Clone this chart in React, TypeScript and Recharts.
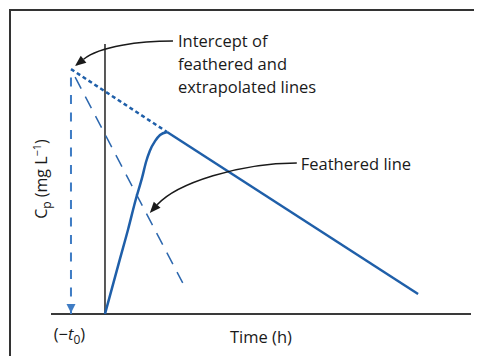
import { ComposedChart, Line, XAxis, YAxis, ReferenceLine, ReferenceDot } from 'recharts';

const FONT = '"Open Sans", "Noto Sans", sans-serif';
const INK = '#1a1a1a';
const BLUE = '#1f5fa9';

// key points of the plasma concentration curve (time in h, Cp in mg/L)
const intercept = { x: -0.63, y: 9.07 };
const featheredNote = { x: 0.83, y: 3.74 };

// absorption phase rising to the peak
const featheredTime = [0, 0.28, 0.43, 0.57, 0.69, 0.76, 0.83, 0.93, 1.02, 1.15];
const featheredConc = [0, 2.06, 3.15, 4.24, 5.07, 5.63, 6.04, 6.41, 6.63, 6.74];

// terminal elimination phase
const eliminationTime = [1.15, 5.8];
const eliminationConc = [6.74, 0.74];

// elimination line extrapolated back to the intercept
const extrapolatedTime = [-0.63, 1.15];
const extrapolatedConc = [9.07, 6.74];

// residual line from the intercept
const residualTime = [-0.63, 1.44];
const residualConc = [9.07, 1.15];

// drop line from the intercept down to the lag time
const lagTime = [-0.63, -0.63];
const lagConc = [9.07, 0];

const toPoints = (t: number[], c: number[]) => t.map((x, i) => ({ x, y: c[i] }));

function arrowHead(tx: number, ty: number, fx: number, fy: number, len = 11, half = 4.5) {
  const dx = tx - fx;
  const dy = ty - fy;
  const d = Math.hypot(dx, dy);
  const ux = dx / d;
  const uy = dy / d;
  const bx = tx - ux * len;
  const by = ty - uy * len;
  return {
    bx,
    by,
    points: `${tx},${ty} ${bx - uy * half},${by + ux * half} ${bx + uy * half},${by - ux * half}`,
  };
}

type CalloutProps = {
  cx?: number;
  cy?: number;
  tip: [number, number];
  c1: [number, number];
  c2: [number, number];
  tail: [number, number];
  text: [number, number];
  lines: string[];
};

// curved pointer with its note, positioned relative to the dot it hangs on
function Callout({ cx = 0, cy = 0, tip, c1, c2, tail, text, lines }: CalloutProps) {
  const tx = cx + tip[0];
  const ty = cy + tip[1];
  const h = arrowHead(tx, ty, cx + c2[0], cy + c2[1]);
  return (
    <g>
      <path
        d={`M${cx + tail[0]},${cy + tail[1]} C${cx + c1[0]},${cy + c1[1]} ${cx + c2[0]},${cy + c2[1]} ${h.bx},${h.by}`}
        fill="none"
        stroke={INK}
        strokeWidth={1.5}
      />
      <polygon points={h.points} fill={INK} />
      <text x={cx + text[0]} y={cy + text[1]} fill={INK} fontSize={16.5} fontFamily={FONT}>
        {lines.map((l, i) => (
          <tspan key={i} x={cx + text[0]} dy={i === 0 ? 0 : 22.7}>
            {l}
          </tspan>
        ))}
      </text>
    </g>
  );
}

const LagArrow = (props: any) => {
  const { cx, cy, index } = props;
  if (index !== lagConc.length - 1) return <g key={`lag-${index}`} />;
  return <polygon key="lag-head" points={`${cx},${cy - 1} ${cx - 4.5},${cy - 10} ${cx + 4.5},${cy - 10}`} fill="#3f7cc4" />;
};

const YTitle = ({ viewBox }: any) => {
  const x = viewBox.x - 58;
  const y = viewBox.y + viewBox.height / 2;
  return (
    <text x={x} y={y} transform={`rotate(-90 ${x} ${y})`} textAnchor="middle" fill={INK} fontSize={16} fontFamily={FONT}>
      C<tspan dy={4} fontSize={12}>p</tspan>
      <tspan dy={-4}> (mg L</tspan>
      <tspan dy={-6} fontSize={11}>−1</tspan>
      <tspan dy={6}>)</tspan>
    </text>
  );
};

const LagLabel = ({ cx = 0, cy = 0 }: any) => (
  <text x={cx - 1.5} y={cy + 26} textAnchor="middle" fill={INK} fontSize={16.5} fontFamily={FONT}>
    (−<tspan fontStyle="italic">t</tspan>
    <tspan dy={4} fontSize={12}>0</tspan>
    <tspan dy={-4}>)</tspan>
  </text>
);

export default function App() {
  return (
    <div style={{ width: 466, height: 348, paddingTop: 1, paddingLeft: 1, boxSizing: 'border-box' }}>
      <div
        style={{
          width: '100%',
          height: '100%',
          boxSizing: 'border-box',
          borderTop: '2px solid #333',
          borderLeft: '2px solid #333',
          overflow: 'hidden',
          background: '#fff',
        }}
      >
        <ComposedChart width={463} height={345} margin={{ top: 33, right: 3, bottom: 42, left: 40 }} style={{ fontFamily: FONT }}>
          <XAxis type="number" dataKey="x" domain={[-1, 6.78]} hide />
          <YAxis type="number" dataKey="y" domain={[0, 10]} hide />

          <ReferenceLine
            y={0}
            stroke="#3a3a3a"
            strokeWidth={2}
            label={{ value: 'Time (h)', position: 'bottom', offset: 17, fill: INK, fontSize: 16.5, fontFamily: FONT }}
          />
          <ReferenceLine x={0} stroke="#222" strokeWidth={1.5} label={{ content: YTitle }} />

          <Line
            data={toPoints(lagTime, lagConc)}
            dataKey="y"
            stroke="#3f7cc4"
            strokeWidth={2}
            strokeDasharray="9 8.5"
            strokeDashoffset={9}
            dot={LagArrow}
            activeDot={false}
            isAnimationActive={false}
          />
          <Line
            data={toPoints(residualTime, residualConc)}
            dataKey="y"
            stroke="#2c67ae"
            strokeWidth={1.5}
            strokeDasharray="13 9"
            strokeDashoffset={13}
            dot={false}
            activeDot={false}
            isAnimationActive={false}
          />
          <Line
            data={toPoints(extrapolatedTime, extrapolatedConc)}
            dataKey="y"
            stroke={BLUE}
            strokeWidth={2.5}
            strokeDasharray="4 3"
            dot={false}
            activeDot={false}
            isAnimationActive={false}
          />
          <Line
            data={toPoints(featheredTime, featheredConc)}
            dataKey="y"
            type="monotone"
            stroke={BLUE}
            strokeWidth={2.5}
            dot={false}
            activeDot={false}
            isAnimationActive={false}
          />
          <Line
            data={toPoints(eliminationTime, eliminationConc)}
            dataKey="y"
            stroke={BLUE}
            strokeWidth={2.5}
            dot={false}
            activeDot={false}
            isAnimationActive={false}
          />

          <ReferenceDot x={intercept.x} y={0} r={0} shape={(p: any) => <LagLabel {...p} />} />
          <ReferenceDot
            x={intercept.x}
            y={intercept.y}
            r={0}
            shape={(p: any) => (
              <Callout
                {...p}
                tip={[4, -3]}
                c2={[29, -23]}
                c1={[69, -28]}
                tail={[102, -28]}
                text={[107, -22]}
                lines={['Intercept of', 'feathered and', 'extrapolated lines']}
              />
            )}
          />
          <ReferenceDot
            x={featheredNote.x}
            y={featheredNote.y}
            r={0}
            shape={(p: any) => (
              <Callout
                {...p}
                tip={[0, 0]}
                c2={[27, -30]}
                c1={[90, -50]}
                tail={[147, -50]}
                text={[151, -43]}
                lines={['Feathered line']}
              />
            )}
          />
        </ComposedChart>
      </div>
    </div>
  );
}
